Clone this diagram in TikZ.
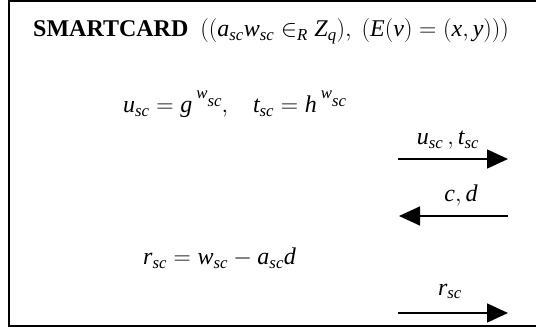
\documentclass[tikz,border=0pt]{standalone}
\usepackage{fix-cm}
\usepackage{fontspec}
\setmainfont{Liberation Serif}
\usetikzlibrary{arrows.meta}
\newcommand\vi[1]{\mathit{#1}}
\newcommand\wexp{\,\raisebox{14pt}{$\scriptstyle\vi{w}$}\raisebox{6pt}{$\scriptstyle\vi{sc}$}}
\tikzset{
  txt/.style={inner sep=0pt, anchor=base west, font=\fontsize{24}{28}\selectfont},
  lbl/.style={inner sep=0pt, anchor=base, font=\fontsize{24}{28}\selectfont},
  msg/.style={line width=1.5pt, -{Triangle[length=21pt,width=19pt]}},
  frame/.style={line width=2.5pt}
}
\begin{document}
\begin{tikzpicture}[x=1pt,y=-1pt]
\useasboundingbox (0,0) rectangle (536,334);
\clip (0,0) rectangle (536,334);
\coordinate (tl) at (9,1);
\coordinate (bl) at (9,326);
\coordinate (tr) at (540,1);
\coordinate (br) at (540,326);
\draw[frame] (tr) -- (tl) -- (bl) -- (br);

\node[txt] (title) at (33,37) {\textbf{SMARTCARD}\ \ $((\vi{a}_{\vi{sc}}\vi{w}_{\vi{sc}} \in_{\vi{R}} \vi{Z}_{\vi{q}}),\ (\vi{E}(\vi{v}) = (\vi{x}, \vi{y})))$};

\node[txt] (eq1) at (123,113) {$\vi{u}_{\vi{sc}} = \vi{g}\wexp,\hspace{21pt} \vi{t}_{\vi{sc}} = \vi{h}\wexp$};

\node[txt] (eq2) at (143,265) {$\vi{r}_{\vi{sc}} = \vi{w}_{\vi{sc}} - \vi{a}_{\vi{sc}}\vi{d}$};

\coordinate (m1a) at (398,159);
\coordinate (m1b) at (508,159);
\draw[msg] (m1a) -- (m1b);
\node[lbl] (l1) at (448,145) {$\vi{u}_{\vi{sc}}\,, \vi{t}_{\vi{sc}}$};

\coordinate (m2a) at (508,216);
\coordinate (m2b) at (399,216);
\draw[msg] (m2a) -- (m2b);
\node[lbl] (l2) at (461,202) {$\vi{c}, \vi{d}$};

\coordinate (m3a) at (398,313);
\coordinate (m3b) at (508,313);
\draw[msg] (m3a) -- (m3b);
\node[lbl] (l3) at (450,295) {$\vi{r}_{\vi{sc}}$};
\end{tikzpicture}
\end{document}
